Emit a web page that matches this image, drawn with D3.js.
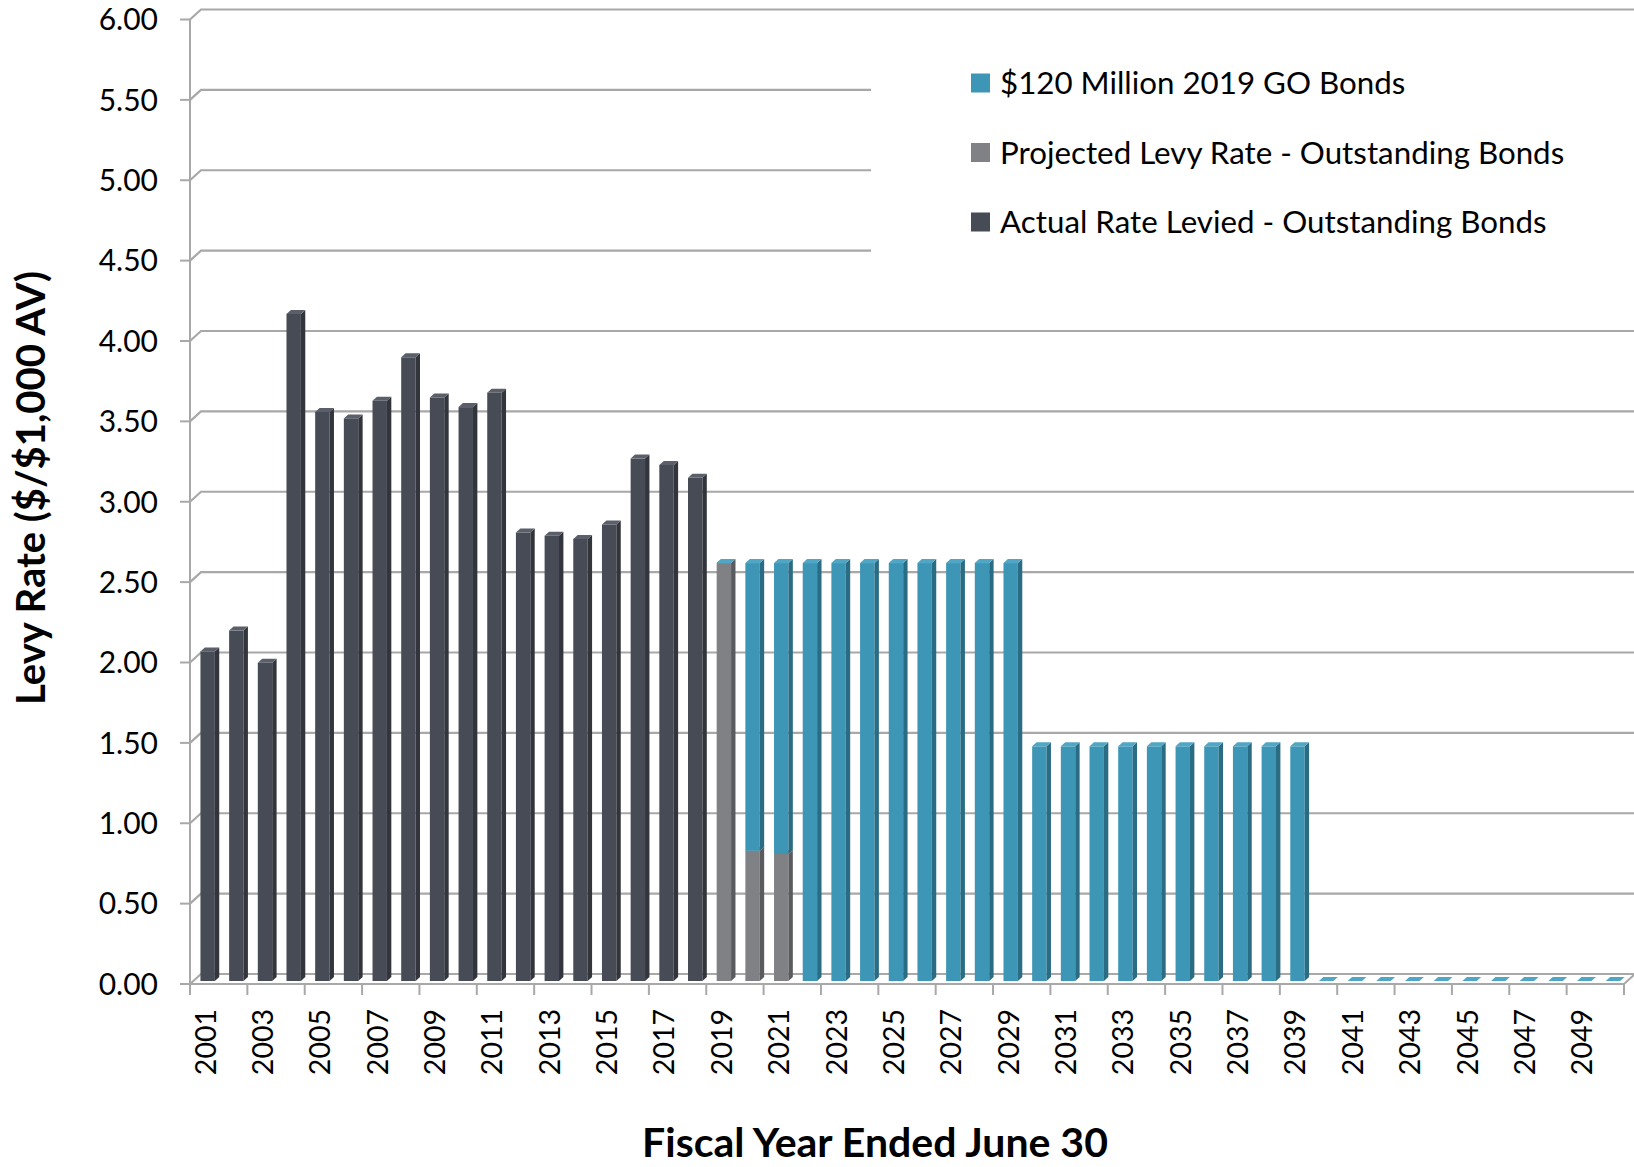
<!DOCTYPE html>
<html>
<head>
<meta charset="utf-8">
<script src="https://cdn.jsdelivr.net/npm/d3@7"></script>
<style>
  html, body { margin: 0; padding: 0; background: #ffffff; }
  svg { display: block; }
</style>
</head>
<body>
<div id="chart"></div>
<script>
// ---------------- DATA ----------------
const years = [
  "2001","2002","2003","2004","2005","2006","2007","2008","2009","2010",
  "2011","2012","2013","2014","2015","2016","2017","2018","2019","2020",
  "2021","2022","2023","2024","2025","2026","2027","2028","2029","2030",
  "2031","2032","2033","2034","2035","2036","2037","2038","2039","2040",
  "2041","2042","2043","2044","2045","2046","2047","2048","2049","2050"
];
const actualLevied = [
  2.05, 2.18, 1.98, 4.15, 3.54, 3.50, 3.61, 3.88, 3.63, 3.57,
  3.66, 2.79, 2.77, 2.75, 2.84, 3.25, 3.21, 3.13, null, null,
  null, null, null, null, null, null, null, null, null, null,
  null, null, null, null, null, null, null, null, null, null,
  null, null, null, null, null, null, null, null, null, null
];
const projectedLevy = [
  null, null, null, null, null, null, null, null, null, null,
  null, null, null, null, null, null, null, null, 2.60, 0.81,
  0.79, null, null, null, null, null, null, null, null, null,
  null, null, null, null, null, null, null, null, null, null,
  null, null, null, null, null, null, null, null, null, null
];
const goBonds2019 = [
  null, null, null, null, null, null, null, null, null, null,
  null, null, null, null, null, null, null, null, 0.00, 1.79,
  1.81, 2.60, 2.60, 2.60, 2.60, 2.60, 2.60, 2.60, 2.60, 1.46,
  1.46, 1.46, 1.46, 1.46, 1.46, 1.46, 1.46, 1.46, 1.46, 0.00,
  0.00, 0.00, 0.00, 0.00, 0.00, 0.00, 0.00, 0.00, 0.00, 0.00
];
const yTicks = [0, 0.5, 1, 1.5, 2, 2.5, 3, 3.5, 4, 4.5, 5, 5.5, 6];
const xLabelYears = years.filter((d, i) => i % 2 === 0);
const seriesNames = [
  "$120 Million 2019 GO Bonds",
  "Projected Levy Rate - Outstanding Bonds",
  "Actual Rate Levied - Outstanding Bonds"
];

// ---------------- LAYOUT ----------------
const W = 1634, H = 1167;
const svg = d3.select("#chart").append("svg").attr("width", W).attr("height", H);

const x = d3.scaleBand().domain(years).range([190, 1624]).padding(0);
const y = d3.scaleLinear().domain([0, 6]).range([984, 19.5]);

const wall = { dx: 11, dy: -10 };        // full depth offset
const barFront = { dx: 3.3, dy: -3 };    // bar front plane offset
const barDepth = { dx: 4.4, dy: -4 };    // bar depth
const barW = 14.4;

const gridColor = "#a8a8a8";

// Series styles (stack order bottom -> top)
const series = [
  { name: seriesNames[2], values: actualLevied, front: "#474b55", side: "#32353c", top: "#5b5f69" },
  { name: seriesNames[1], values: projectedLevy, front: "#808184", side: "#5a5b5e", top: "#97989b" },
  { name: seriesNames[0], values: goBonds2019,  front: "#3e96b6", side: "#296c84", top: "#4fa6c5" }
];

// ---------------- WALLS / GRID ----------------
const grid = svg.append("g");
grid.append("line")
  .attr("x1", 190).attr("x2", 190).attr("y1", y(6)).attr("y2", y(0))
  .attr("stroke", gridColor).attr("stroke-width", 2);

yTicks.forEach(t => {
  const yf = y(t);
  grid.append("line").attr("x1", 180).attr("x2", 190).attr("y1", yf).attr("y2", yf)
    .attr("stroke", gridColor).attr("stroke-width", 2);
  if (t === 0) return;
  grid.append("path")
    .attr("d", `M190,${yf} L${190 + wall.dx},${yf + wall.dy} L${W},${yf + wall.dy}`)
    .attr("fill", "none").attr("stroke", gridColor).attr("stroke-width", 2.2);
});

// floor
const x0 = x.range()[0], x1 = x.range()[1], yb = y(0);
grid.append("path")
  .attr("d", `M${x0},${yb} L${x1},${yb} L${x1 + wall.dx},${yb + wall.dy} L${x0 + wall.dx},${yb + wall.dy} Z`)
  .attr("fill", "#ffffff").attr("stroke", gridColor).attr("stroke-width", 2);

// x ticks (every 2 categories)
const xTickPos = years.filter((d, i) => i % 2 === 0).map(d => x(d)).concat([x1]);
xTickPos.forEach(px => {
  grid.append("line").attr("x1", px).attr("x2", px).attr("y1", yb).attr("y2", yb + 11)
    .attr("stroke", gridColor).attr("stroke-width", 2);
});

// legend box background (covers grid lines)
svg.append("rect").attr("x", 871).attr("y", 38).attr("width", W - 871).attr("height", 232)
  .attr("fill", "#ffffff");

// ---------------- BARS ----------------
const bars = svg.append("g");
years.forEach((yr, i) => {
  const cx = x(yr) + x.bandwidth() / 2 + barFront.dx;
  const bx0 = cx - barW / 2, bx1 = cx + barW / 2;
  let cum = 0;
  series.forEach(s => {
    const v = s.values[i];
    if (v === null || v === undefined) return;
    const yLow = y(cum) + barFront.dy;
    const yHigh = y(cum + v) + barFront.dy;
    const g = bars.append("g");
    if (v > 0) {
      g.append("rect").attr("x", bx0).attr("y", yHigh).attr("width", barW).attr("height", yLow - yHigh)
        .attr("fill", s.front);
      g.append("path")
        .attr("d", `M${bx1},${yHigh} L${bx1 + barDepth.dx},${yHigh + barDepth.dy} L${bx1 + barDepth.dx},${yLow + barDepth.dy} L${bx1},${yLow} Z`)
        .attr("fill", s.side);
    }
    g.append("path")
      .attr("d", `M${bx0},${yHigh} L${bx1},${yHigh} L${bx1 + barDepth.dx},${yHigh + barDepth.dy} L${bx0 + barDepth.dx},${yHigh + barDepth.dy} Z`)
      .attr("fill", s.top);
    cum += v;
  });
});

// ---------------- AXIS LABELS ----------------
const fontBase = "Lato, 'Open Sans', sans-serif";
const yLab = svg.append("g").attr("font-family", fontBase).attr("font-size", 30).attr("fill", "#000");
yTicks.forEach(t => {
  yLab.append("text").attr("x", 158).attr("y", y(t)).attr("dy", "0.36em")
    .attr("text-anchor", "end").text(d3.format(".2f")(t));
});

const xLab = svg.append("g").attr("font-family", fontBase).attr("font-size", 28.5).attr("fill", "#000");
xLabelYears.forEach(yr => {
  const cx = x(yr) + x.bandwidth() / 2 + 1;
  xLab.append("text")
    .attr("transform", `translate(${cx},1009) rotate(-90)`)
    .attr("dy", "0.36em").attr("text-anchor", "end").text(yr);
});

svg.append("text")
  .attr("transform", "translate(45,488) rotate(-90)")
  .attr("text-anchor", "middle")
  .attr("font-family", fontBase).attr("font-weight", 700).attr("font-size", 40)
  .text("Levy Rate ($/$1,000 AV)");

svg.append("text")
  .attr("x", 875).attr("y", 1157)
  .attr("text-anchor", "middle")
  .attr("font-family", fontBase).attr("font-weight", 700).attr("font-size", 41)
  .text("Fiscal Year Ended June 30");

// ---------------- LEGEND ----------------
const legend = svg.append("g").attr("font-family", fontBase).attr("font-size", 31.3);
const legendItems = [series[2], series[1], series[0]];
legendItems.forEach((s, k) => {
  const cy = 83 + k * 69.5;
  legend.append("rect").attr("x", 971).attr("y", cy - 9.5).attr("width", 19).attr("height", 19)
    .attr("fill", s.front);
  legend.append("text").attr("x", 1000).attr("y", cy).attr("dy", "0.36em").text(s.name);
});
</script>
</body>
</html>
